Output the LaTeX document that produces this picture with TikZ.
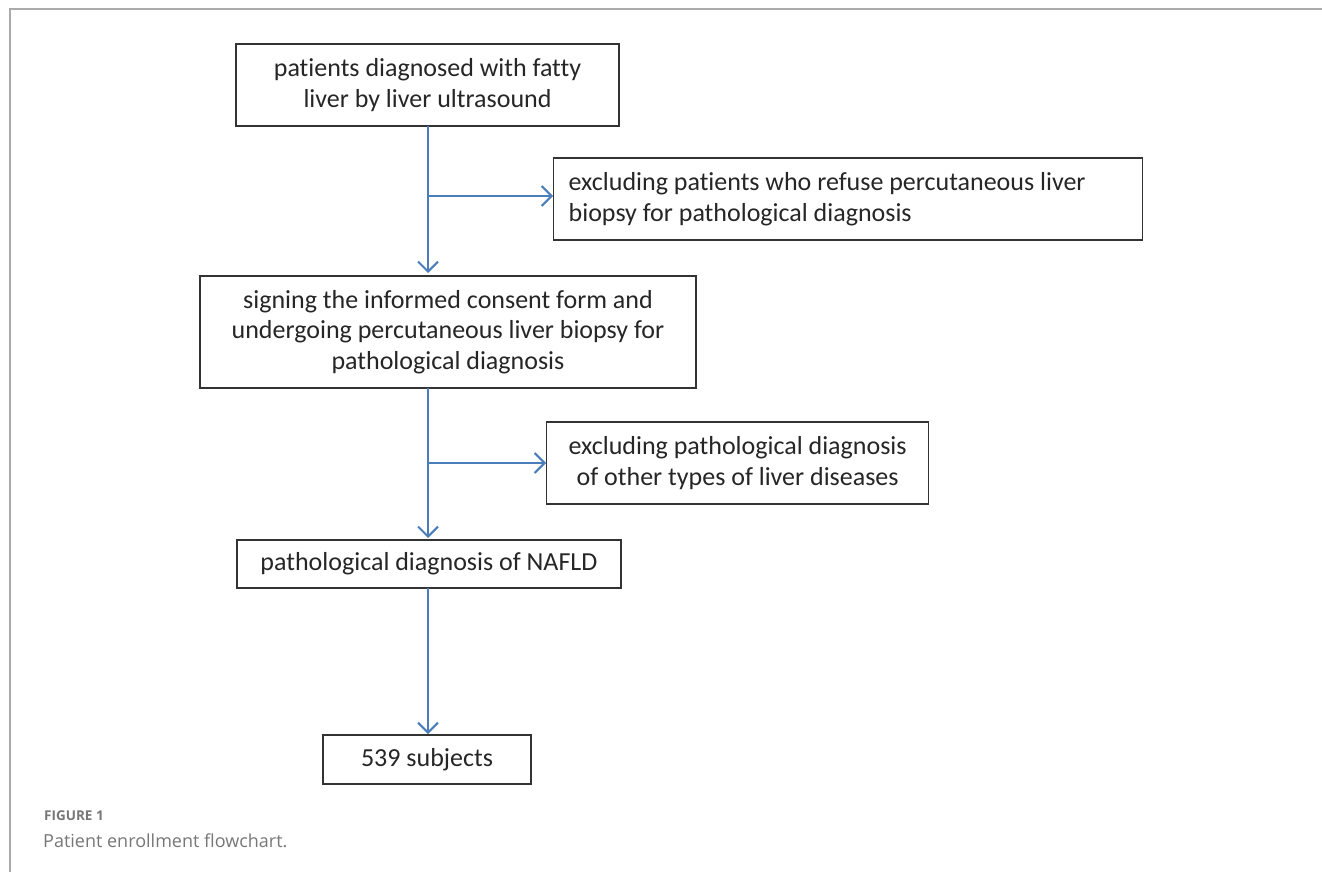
\documentclass[tikz,border=0pt]{standalone}
\usepackage{fontspec}
\setmainfont[Ligatures=NoCommon]{Carlito}
\newfontfamily\capfont{Open Sans}
\usetikzlibrary{arrows.meta}
\definecolor{arrowblue}{HTML}{4A7EBB}
\definecolor{framegray}{HTML}{AAAAAA}
\definecolor{capgray}{HTML}{777777}
\tikzset{
  box/.style={draw=black!80, line width=1.3pt, align=center, inner sep=0pt,
    font=\fontsize{26}{30.5}\selectfont, text=black!85},
  flow/.style={draw=arrowblue, line width=2pt,
    -{Straight Barb[length=10pt,width=20pt,line width=2pt]}},
}
\begin{document}
\begin{tikzpicture}[x=1pt,y=-1pt]
\useasboundingbox (0,0) rectangle (1322,872);
\fill[white] (0,0) rectangle (1322,872);
\draw[framegray, line width=2pt] (9.5,872) -- (9.5,9) -- (1322,9);
\node[box, minimum width=383pt, minimum height=82pt] (b1) at (427.5,85)
  {patients diagnosed with fatty\\liver by liver ultrasound};
\node[box, minimum width=589pt, minimum height=82pt, anchor=west] (b2) at (553,199) {};
\node[box, draw=none, align=left, anchor=west] (b2t) at (568,199)
  {excluding patients who refuse percutaneous liver\\biopsy for pathological diagnosis};
\node[box, minimum width=496pt, minimum height=112pt] (b3) at (448,332)
  {signing the informed consent form and\\undergoing percutaneous liver biopsy for\\pathological diagnosis};
\node[box, minimum width=382pt, minimum height=82pt, anchor=west] (b4) at (546,463)
  {excluding pathological diagnosis\\of other types of liver diseases};
\node[box, minimum width=384pt, minimum height=48pt] (b5) at (429,564)
  {pathological diagnosis of NAFLD};
\node[box, minimum width=208pt, minimum height=49pt] (b6) at (427,759.5)
  {539 subjects};
\coordinate (j1) at (428,196);
\coordinate (j2) at (428,463);
\draw[flow] (428,126) -- (428,273);
\draw[flow] (j1) -- (b2.west|-j1);
\draw[flow] (428,388) -- (428,538);
\draw[flow] (j2) -- (b4.west|-j2);
\draw[flow] (428,588) -- (428,734);
\node[anchor=west, font=\capfont\bfseries\fontsize{13.5}{16}\selectfont, text=capgray, inner sep=0pt] (fig) at (44,816) {FIGURE 1};
\node[anchor=west, font=\capfont\fontsize{18}{22}\selectfont, text=capgray, inner sep=0pt] (cap) at (43,841) {Patient enrollment flowchart.};
\end{tikzpicture}
\end{document}
